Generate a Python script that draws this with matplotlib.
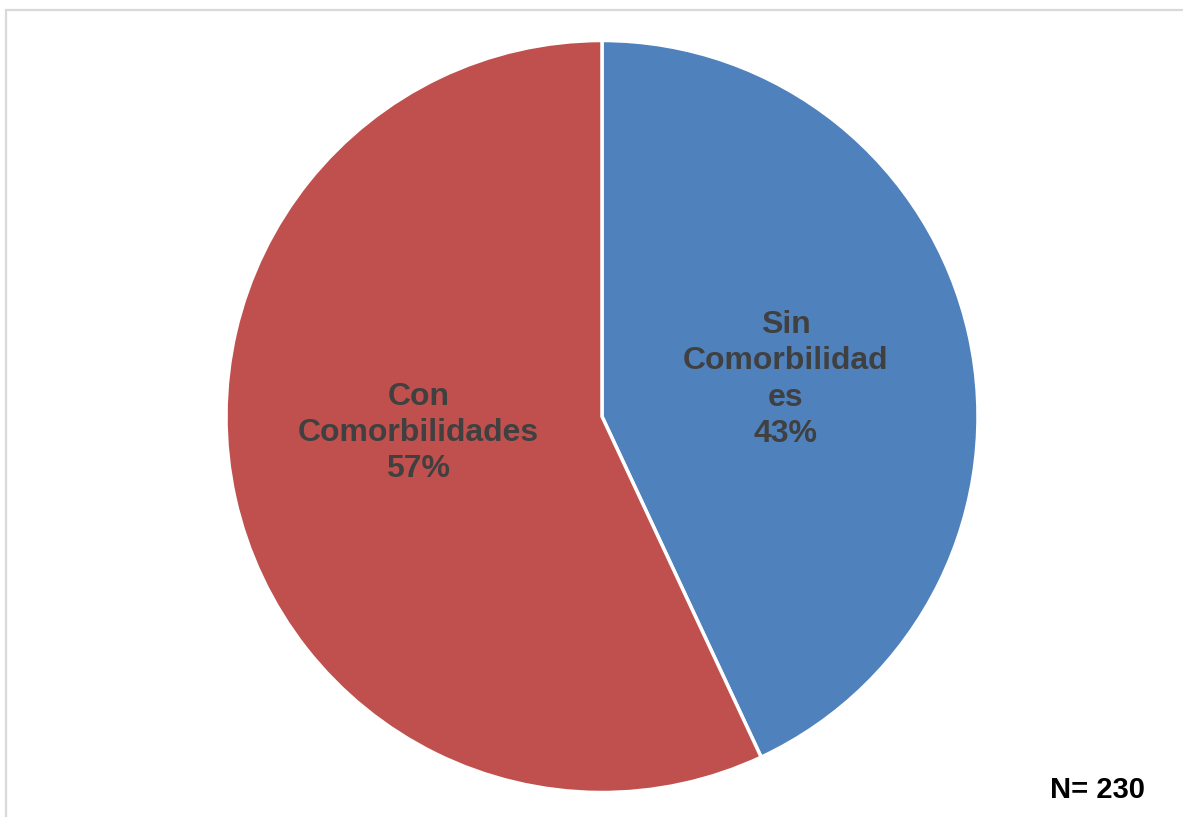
import matplotlib.pyplot as plt
from matplotlib.patches import Rectangle

plt.rcParams['font.family'] = ['Liberation Sans', 'DejaVu Sans']

# -----------------------
# Data
# -----------------------

categories = ["Sin\nComorbilidad\nes", "Con\nComorbilidades"]
values = [99, 131]
colors = ["#4F81BD", "#C0504D"]
total = sum(values)

labels = [
    f"{c}\n{round(v / total * 100)}%" for c, v in zip(categories, values)
]

W, H = 1183, 817
fig = plt.figure(figsize=(W / 100, H / 100), dpi=100)

# light gray chart frame
fig.patches.append(Rectangle(
    (6 / W, -0.05), 1.2, 1 - 10 / H + 0.05,
    transform=fig.transFigure, fill=False,
    edgecolor="#D9D9D9", linewidth=1.6
))

cx, cy, r = 602, 416.5, 376
ax = fig.add_axes([(cx - r) / W, (H - cy - r) / H, 2 * r / W, 2 * r / H])

wedges, texts = ax.pie(
    values,
    labels=labels,
    colors=colors,
    startangle=90,
    counterclock=False,
    labeldistance=0.5,
    radius=1,
    wedgeprops=dict(edgecolor="white", linewidth=2.5),
    textprops=dict(fontsize=23, fontweight="bold", color="#404040",
                   ha="center", va="center", linespacing=1.27)
)

# Excel places the red label a bit higher
x, y = texts[1].get_position()
texts[1].set_position((x, y + 0.065))
x, y = texts[0].get_position()
texts[0].set_position((x, y - 0.01))

ax.set_xlim(-1, 1)
ax.set_ylim(-1, 1)
ax.set_aspect("equal")
ax.axis("off")

fig.text(1145 / W, 1 - 790 / H, "N= 230", ha="right", va="center",
         fontsize=21, fontweight="bold", color="black")

fig.savefig("out.png", dpi=100)
plt.close(fig)
